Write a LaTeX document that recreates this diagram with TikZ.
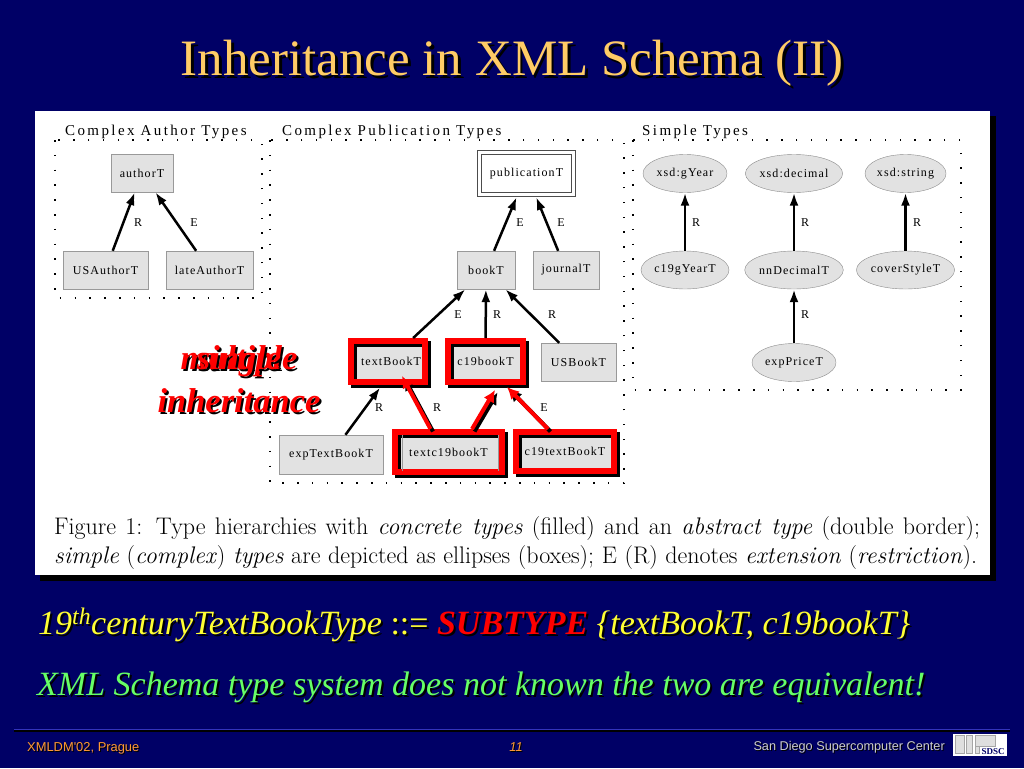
\documentclass[tikz,border=0pt]{standalone}
\usepackage{fontspec}
\usepackage{xcolor}
\usepackage{tikz}
\usetikzlibrary{shapes.geometric}
\usetikzlibrary{arrows.meta}
\newfontfamily\slidefont{Liberation Serif}
\newfontfamily\footfont{Liberation Sans}
\newfontfamily\figfont[LetterSpace=9]{Liberation Serif}
\newfontfamily\headfont[LetterSpace=16]{Liberation Serif}
\definecolor{slidebg}{HTML}{000066}
\definecolor{titlegold}{HTML}{FFCC66}
\definecolor{lineyellow}{HTML}{FFFF33}
\definecolor{linegreen}{HTML}{66FF66}
\definecolor{boxgray}{HTML}{E2E2E2}
\definecolor{footorange}{HTML}{FF9933}
\newcommand{\shadowtext}[3][2pt]{\rlap{\kern#1\raisebox{-#1}{\color{black}#3}}{\color{#2}#3}}
\begin{document}
\begin{tikzpicture}[
	x=1pt,y=-1pt,
	font=\figfont\fontsize{12}{14}\selectfont
]
\tikzset{
    typebox/.style = {rectangle, draw=gray!80, fill=boxgray, inner sep=0pt, minimum height=38pt},
    typeell/.style = {ellipse, draw=gray!90, fill=boxgray, inner sep=0pt, minimum height=38pt},
    redbox/.style = {rectangle, draw=red, line width=6pt, inner sep=0pt, preaction={fill=boxgray},
        preaction={draw=black, line width=6pt, transform canvas={shift={(3pt,-3pt)}}}},
    typeedge/.style = {line width=2.5pt, -{Latex[length=13pt,width=9pt]}},
    rededge/.style = {draw=red, line width=4pt, -{Latex[length=12pt,width=12pt]},
        preaction={draw=black, line width=4pt, transform canvas={shift={(2.5pt,-2.5pt)}}}},
    groupbox/.style = {line width=1.3pt, dash pattern=on 1.5pt off 13.3pt},
    edgelabel/.style = {inner sep=0pt},
    grouphead/.style = {inner sep=0pt, anchor=base west, font=\headfont\fontsize{15}{17}\selectfont},
    bigred/.style = {inner sep=0pt, font=\slidefont\bfseries\itshape\fontsize{34.5}{38}\selectfont},
    slideline/.style = {inner sep=0pt, anchor=base west, font=\slidefont\itshape\fontsize{34}{38}\selectfont},
    footnote/.style = {inner sep=0pt, font=\footfont\fontsize{12.9}{15}\selectfont},
}
\useasboundingbox (0,0) rectangle (1024,768);
\fill[slidebg] (0,0) rectangle (1024,768);

% title
\node[inner sep=0pt, anchor=base, font=\slidefont\fontsize{51}{55}\selectfont] (title) at (512,75)
	{\shadowtext[3pt]{titlegold}{Inheritance in XML Schema (II)}};

% white panel
\fill[black] (40,116) rectangle (996,581);
\fill[white] (35,111) rectangle (990,575);

% dotted groups
\draw[groupbox] (55,140) rectangle (262,298);
\draw[groupbox] (270,140) rectangle (624,483);
\draw[groupbox] (633,140) rectangle (961,390);
\node[grouphead] (authorhead) at (65,135) {Complex Author Types};
\node[grouphead] (pubhead) at (282,135) {Complex Publication Types};
\node[grouphead] (simplehead) at (642,135) {Simple Types};

% author types
\node[typebox,minimum width=62pt] (authorT) at (142,173) {authorT};
\node[typebox,minimum width=85pt] (USAuthorT) at (105.5,270) {USAuthorT};
\node[typebox,minimum width=87pt] (lateAuthorT) at (209.5,270) {lateAuthorT};

% publication types
\node[rectangle,draw=black!70,fill=white,line width=1.2pt,double=white,double distance=2.6pt,
	inner sep=0pt,outer sep=2.5pt,minimum width=94pt,minimum height=42pt] (publicationT) at (526.5,173.5) {publicationT};
\node[typebox,minimum width=58pt] (bookT) at (486,270) {bookT};
\node[typebox,minimum width=66pt] (journalT) at (566,270) {journalT};
\node[typebox,minimum width=75pt] (USBookT) at (578.5,362) {USBookT};
\node[typebox,minimum width=104pt,minimum height=39pt] (expTextBookT) at (331,454.5) {expTextBookT};
\node[redbox,minimum width=74pt,minimum height=41pt] (textBookT) at (388,361.5) {\kern6pt textBookT};
\node[redbox,minimum width=75pt,minimum height=41pt] (c19bookT) at (485.5,361.5) {c19bookT};
\node[redbox,minimum width=107pt,minimum height=40pt] (textc19bookT) at (448.5,452) {textc19bookT};
\node[redbox,minimum width=98pt,minimum height=39pt] (c19textBookT) at (565,451.5) {c19textBookT};
\draw[gray!80] (402,435) -- (402,471) (498,435) -- (498,471);

% simple types
\node[typeell,minimum width=84pt] (xsdgYear) at (685,173.5) {xsd:gYear};
\node[typeell,minimum width=94pt] (xsddecimal) at (794,173.5) {xsd:decimal};
\node[typeell,minimum width=81pt] (xsdstring) at (905.5,173.5) {xsd:string};
\node[typeell,minimum width=88pt] (c19gYearT) at (685,270) {c19gYearT};
\node[typeell,minimum width=96pt] (nnDecimalT) at (794,270) {nnDecimalT};
\node[typeell,minimum width=93pt] (coverStyleT) at (905.5,270) {coverStyleT};
\node[typeell,minimum width=84pt] (expPriceT) at (794,362.5) {expPriceT};

% edges
\draw[typeedge] (USAuthorT) -- (authorT);
\draw[typeedge] (lateAuthorT) -- (authorT);
\draw[typeedge] (bookT) -- (publicationT);
\draw[typeedge] (journalT) -- (publicationT);
\draw[typeedge] (textBookT) -- (bookT);
\draw[typeedge] (c19bookT) -- (bookT);
\draw[typeedge] (USBookT) -- (bookT);
\draw[typeedge,shorten >=3pt] (expTextBookT) -- ([xshift=-6pt]textBookT.south);
\draw[typeedge] (c19gYearT) -- (xsdgYear);
\draw[typeedge] (nnDecimalT) -- (xsddecimal);
\draw[typeedge] (coverStyleT) -- (xsdstring);
\draw[typeedge] (expPriceT) -- (nnDecimalT);
\draw[rededge] ([xshift=-18pt]textc19bookT.north) -- ([xshift=14pt,yshift=9pt]textBookT.south);
\draw[rededge] ([xshift=23.5pt]textc19bookT.north) -- ([xshift=9.5pt,yshift=-5pt]c19bookT.south);
\draw[rededge] ([xshift=-17pt]c19textBookT.north) -- ([xshift=21.5pt,yshift=-2pt]c19bookT.south);

% edge labels
\foreach \lblname/\lblx/\lbly/\lbltxt in {
	lblA/138/223/R, lblB/194/223/E, lblC/520/223/E, lblD/561/223/E,
	lblE/696/223/R, lblF/805/223/R, lblG/917/223/R, lblH/458/315/E,
	lblI/497/315/R, lblJ/552/315/R, lblK/805/315/R, lblL/379/408/R,
	lblM/437/408/R, lblN/544/408/E}
	\node[edgelabel] (\lblname) at (\lblx,\lbly) {\lbltxt};

% overlaid side note
\node[bigred] (multiple) at (239,362) {\shadowtext{red}{multiple}};
\node[bigred] (single) at (239,362) {\shadowtext{red}{single}};
\node[bigred] (inheritance) at (239,402) {\shadowtext{red}{inheritance}};

% caption
\node[inner sep=0pt, anchor=north west, align=left, text=black, font=\fontsize{24}{29.5}\selectfont] (caption) at (54,516)
	{\makebox[926pt][s]{Figure 1: Type hierarchies with \emph{concrete types} (filled) and an \emph{abstract type} (double border);}\\
	\makebox[923pt][s]{\emph{simple} (\emph{complex}) \emph{types} are depicted as ellipses (boxes); E (R) denotes \emph{extension} (\emph{restriction}).}};

% text lines
\node[slideline] (subtypeline) at (38,634)
	{\shadowtext{lineyellow}{19\textsuperscript{th}centuryTextBookType {\upshape ::=} }\shadowtext{red}{\bfseries SUBTYPE }\shadowtext{lineyellow}{\{textBookT, c19bookT\}}};
\node[slideline] (equivline) at (37,695)
	{\shadowtext{linegreen}{XML Schema type system does not known the two are equivalent!}};

% footer
\draw[black,line width=1.5pt] (14,731) -- (1010,731);
\draw[blue!45!slidebg!80!white,line width=1pt] (14,729) -- (1010,729);
\node[footnote,anchor=base west] (footleft) at (27,751.5) {\shadowtext[1pt]{footorange}{XMLDM'02, Prague}};
\node[footnote,anchor=base] (footnum) at (516,751.5) {\itshape\shadowtext[1pt]{footorange}{11}};
\node[footnote,anchor=base east,font=\footfont\fontsize{12.7}{15}\selectfont] (footright) at (945,750.5) {\shadowtext[1pt]{gray!40}{San Diego Supercomputer Center}};
\fill[white] (953,734) rectangle (1007,756);
\filldraw[fill=gray!25,draw=gray!70] (955,735) rectangle (964,753) (966,735) rectangle (972,753) (975,735) rectangle (995,746) (975,746) rectangle (979,753);
\node[inner sep=0pt, text=slidebg, font=\slidefont\bfseries\fontsize{9}{10}\selectfont] (sdsclogo) at (993,751.5) {SDSC};
\end{tikzpicture}
\end{document}
